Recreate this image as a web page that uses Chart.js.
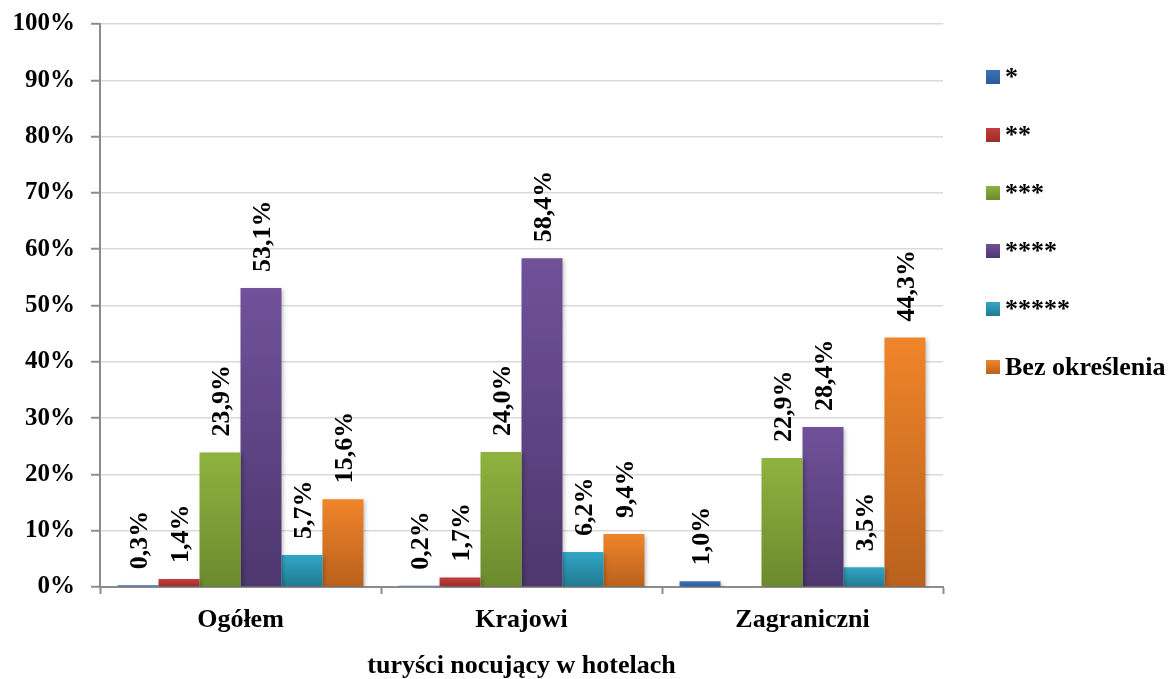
<!DOCTYPE html>
<html>
<head>
<meta charset="utf-8">
<script src="https://cdn.jsdelivr.net/npm/chart.js@4/dist/chart.umd.min.js"></script>
<style>
  html, body { margin: 0; padding: 0; background: #ffffff; }
  #wrap { width: 1172px; height: 679px; position: relative; }
</style>
</head>
<body>
<div id="wrap"><canvas id="chart"></canvas></div>
<script>
// Categories and series (percent shares of hotel guests by hotel category)
const categories = ['Ogółem', 'Krajowi', 'Zagraniczni'];
const seriesNames = ['*', '**', '***', '****', '*****', 'Bez określenia'];
const oneStar = [0.3, 0.2, 1.0];
const twoStars = [1.4, 1.7, null];
const threeStars = [23.9, 24.0, 22.9];
const fourStars = [53.1, 58.4, 28.4];
const fiveStars = [5.7, 6.2, 3.5];
const unspecified = [15.6, 9.4, 44.3];
const yTicks = [0, 10, 20, 30, 40, 50, 60, 70, 80, 90, 100];
const xAxisTitle = 'turyści nocujący w hotelach';

const seriesValues = [oneStar, twoStars, threeStars, fourStars, fiveStars, unspecified];
// top / bottom shades of each bar gradient
const shades = [
  ['#3b72bb', '#2a5a95'],
  ['#c1403d', '#9c2b28'],
  ['#8fb23f', '#6a8a2d'],
  ['#70519a', '#4d376e'],
  ['#32a7c6', '#217a91'],
  ['#f0852a', '#b9611d']
];

const FONT = '"Liberation Serif", "Times New Roman", serif';
Chart.defaults.font.family = FONT;
Chart.defaults.color = '#000';

function barFill(top, bottom) {
  return (ctx) => {
    const chart = ctx.chart;
    if (!chart.chartArea || ctx.type !== 'data' || !ctx.parsed) return top;
    const v = ctx.parsed.y;
    if (v == null || isNaN(v)) return top;
    const ys = chart.scales.y;
    const y0 = ys.getPixelForValue(0);
    const y1 = ys.getPixelForValue(v);
    if (Math.abs(y0 - y1) < 1) return top;
    const g = chart.ctx.createLinearGradient(0, y1, 0, y0);
    g.addColorStop(0, top);
    g.addColorStop(1, bottom);
    return g;
  };
}

const fmt = (v) => v.toFixed(1).replace('.', ',') + '%';

// soft drop shadow under the bars
const barShadow = {
  id: 'barShadow',
  beforeDatasetsDraw(chart) {
    const c = chart.ctx;
    c.save();
    c.shadowColor = 'rgba(0,0,0,0.25)';
    c.shadowBlur = 4;
    c.shadowOffsetX = 2;
    c.shadowOffsetY = 2;
  },
  afterDatasetsDraw(chart) {
    chart.ctx.restore();
  }
};

// vertical value labels above each bar
const valueLabels = {
  id: 'valueLabels',
  afterDatasetsDraw(chart) {
    const c = chart.ctx;
    c.save();
    c.font = 'bold 26px ' + FONT;
    c.fillStyle = '#000';
    c.textAlign = 'left';
    c.textBaseline = 'middle';
    chart.data.datasets.forEach((ds, i) => {
      const meta = chart.getDatasetMeta(i);
      meta.data.forEach((bar, j) => {
        const v = ds.data[j];
        if (v == null) return;
        c.save();
        c.translate(bar.x + 2, bar.y - 16);
        c.rotate(-Math.PI / 2);
        c.fillText(fmt(v), 0, 0);
        c.restore();
      });
    });
    c.restore();
  }
};

// legend column to the right of the plot
const sideLegend = {
  id: 'sideLegend',
  afterDraw(chart) {
    const c = chart.ctx;
    const area = chart.chartArea;
    const boxX = area.right + 43;
    const firstY = 77, step = 58, box = 14;
    c.save();
    c.font = 'bold 26px ' + FONT;
    c.textAlign = 'left';
    c.textBaseline = 'alphabetic';
    chart.data.datasets.forEach((ds, i) => {
      const cy = firstY + i * step;
      const g = c.createLinearGradient(0, cy - box / 2, 0, cy + box / 2);
      g.addColorStop(0, shades[i][0]);
      g.addColorStop(1, shades[i][1]);
      c.fillStyle = g;
      c.fillRect(boxX, cy - box / 2, box, box);
      c.fillStyle = '#000';
      c.fillText(ds.label, boxX + 19, cy + 8);
    });
    c.restore();
  }
};

const datasets = seriesNames.map((name, i) => ({
  label: name,
  data: seriesValues[i],
  backgroundColor: barFill(shades[i][0], shades[i][1]),
  borderWidth: 0,
  categoryPercentage: 0.875,
  barPercentage: 1.0
}));

new Chart(document.getElementById('chart'), {
  type: 'bar',
  data: { labels: categories, datasets },
  options: {
    responsive: true,
    maintainAspectRatio: false,
    animation: false,
    devicePixelRatio: 1,
    layout: { padding: { top: 24, right: 229, bottom: 0, left: 0 } },
    plugins: {
      legend: { display: false },
      tooltip: { enabled: false }
    },
    scales: {
      x: {
        offset: true,
        grid: {
          offset: true,
          drawOnChartArea: false,
          drawTicks: true,
          tickLength: 7,
          tickColor: '#8c8c8c',
          tickWidth: 2
        },
        border: { color: '#8c8c8c', width: 2 },
        ticks: {
          font: { size: 26, weight: 'bold' },
          color: '#000',
          padding: 11
        },
        title: {
          display: true,
          text: xAxisTitle,
          font: { size: 26, weight: 'bold', lineHeight: 1 },
          color: '#000',
          padding: { top: 0, bottom: 0 }
        },
        afterFit(scale) {
          scale.height = 92;
          scale.paddingLeft = 0;
          scale.paddingRight = 0;
        }
      },
      y: {
        min: 0,
        max: 100,
        afterBuildTicks(scale) { scale.ticks = yTicks.map(v => ({ value: v })); },
        ticks: {
          font: { size: 25, weight: 'bold' },
          color: '#000',
          padding: 16,
          callback: (v) => v + '%'
        },
        grid: {
          color: '#d9d9d9',
          lineWidth: 1.5,
          drawTicks: true,
          tickLength: 9,
          tickColor: '#8c8c8c',
          tickWidth: 2
        },
        border: { color: '#8c8c8c', width: 2 },
        afterFit(scale) {
          scale.width = 100;
          scale.paddingTop = 0;
          scale.paddingBottom = 0;
        }
      }
    }
  },
  plugins: [barShadow, valueLabels, sideLegend]
});
</script>
</body>
</html>
